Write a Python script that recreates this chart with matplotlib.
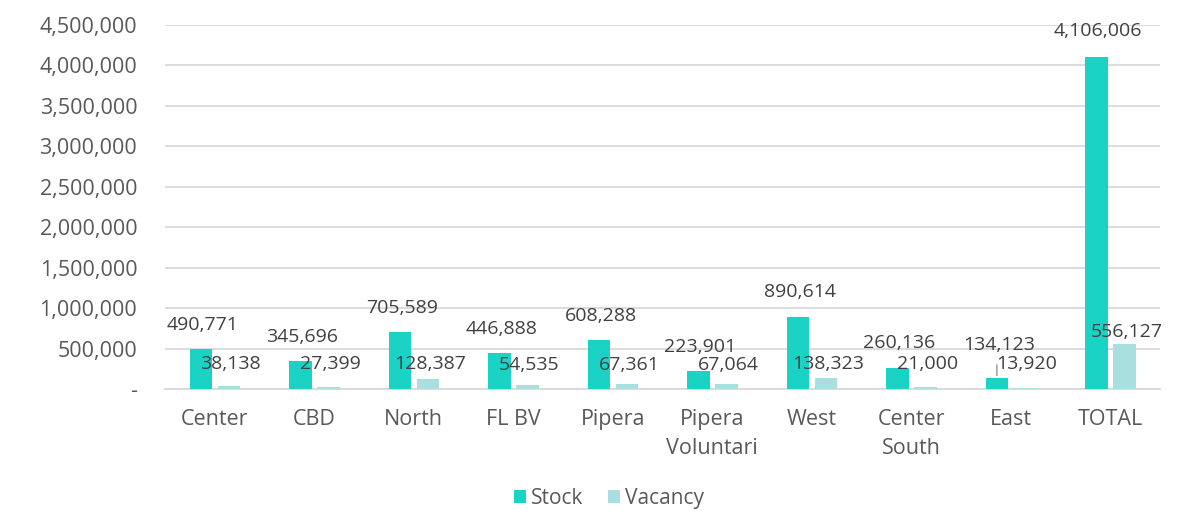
import matplotlib.pyplot as plt
import numpy as np

# chart data
categories = ['Center', 'CBD', 'North', 'FL BV', 'Pipera', 'Pipera\nVoluntari',
              'West', 'Center\nSouth', 'East', 'TOTAL']
stock = [490771, 345696, 705589, 446888, 608288, 223901, 890614, 260136, 134123, 4106006]
vacancy = [38138, 27399, 128387, 54535, 67361, 67064, 138323, 21000, 13920, 556127]

# label placement (pixels above bar top)
stock_dy = [24, 24, 24, 24, 24, 24, 25, 25, 33, 26]
vac_dy = [22, 23, 15, 20, 19, 19, 14, 23, 24, 12]

plt.rcParams['font.family'] = ['Open Sans', 'DejaVu Sans']
txt = '#595959'
lbl = '#404040'
c_stock = '#1BD3C5'
c_vac = '#A9E0DF'

fig = plt.figure(figsize=(11.96, 5.11), dpi=100)
ax = fig.add_axes([0.138, 0.2387, 0.832, 0.7123])

x = np.arange(len(categories))
w = 0.226
off = 0.141
b1 = ax.bar(x - off, stock, w, color=c_stock, label='Stock', zorder=3)
b2 = ax.bar(x + off, vacancy, w, color=c_vac, label='Vacancy', zorder=3)

for i in range(len(categories)):
    ax.annotate(f'{stock[i]:,}', (x[i] - off, stock[i]), xytext=(2, stock_dy[i]),
                textcoords='offset pixels', ha='center', va='center',
                fontsize=14, color=lbl, zorder=5)
    ax.annotate(f'{vacancy[i]:,}', (x[i] + off, vacancy[i]), xytext=(2, vac_dy[i]),
                textcoords='offset pixels', ha='center', va='center',
                fontsize=14, color=lbl, zorder=5)

# leader line for East stock label
ax.annotate('', (x[8] - off, stock[8]), xytext=(0, 16), textcoords='offset pixels',
            arrowprops=dict(arrowstyle='-', color='#a6a6a6', lw=1.2))

ax.set_xlim(-0.5, len(categories) - 0.5)
ax.set_ylim(0, 4500000)
ticks = np.arange(0, 4500001, 500000)
ax.set_yticks(ticks)
ax.set_yticklabels(['-' if t == 0 else f'{t:,}' for t in ticks])
ax.set_xticks(x)
ax.set_xticklabels(categories, linespacing=1.5)
ax.tick_params(axis='y', length=0, pad=20, labelsize=15.5, labelcolor=txt)
ax.tick_params(axis='x', length=0, pad=14.5, labelsize=15.5, labelcolor=txt)

ax.grid(axis='y', color='#d9d9d9', lw=1.3, zorder=0)
for s in ['top', 'right', 'left']:
    ax.spines[s].set_visible(False)
ax.spines['bottom'].set_color('#d9d9d9')
ax.spines['bottom'].set_linewidth(1.3)

fig.legend(handles=[b1, b2], loc='center', bbox_to_anchor=(0.509, 0.025), ncol=2,
           frameon=False, fontsize=15, labelcolor=txt, handlelength=0.6,
           handleheight=0.6, handletextpad=0.2, columnspacing=1.2)

fig.savefig('out.png', dpi=100)
